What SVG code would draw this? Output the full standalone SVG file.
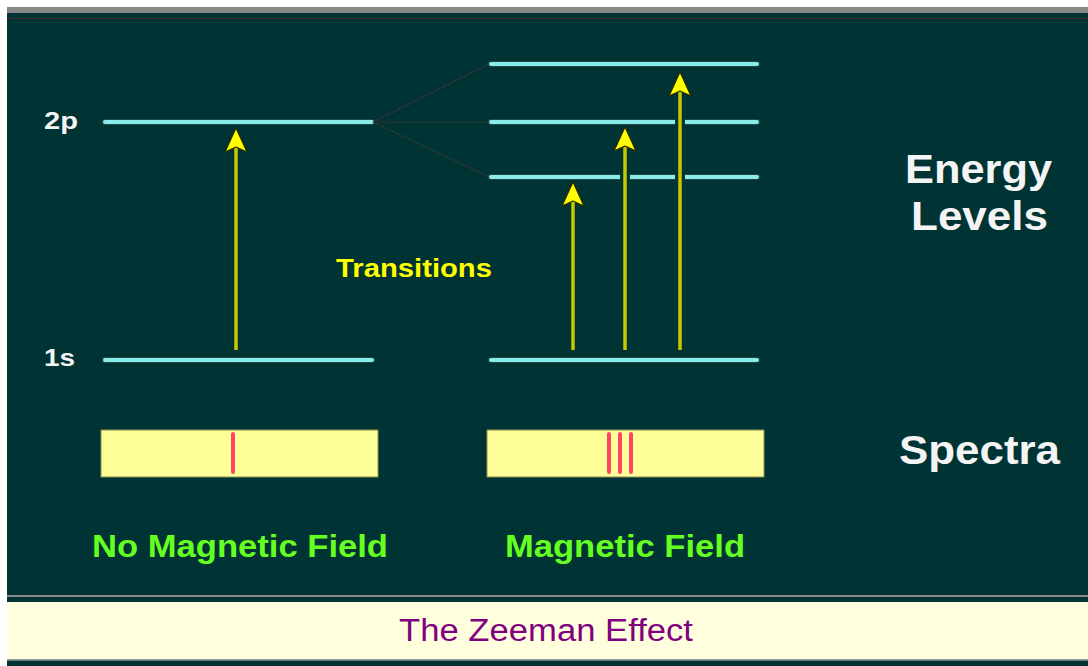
<svg xmlns="http://www.w3.org/2000/svg" width="1088" height="666" viewBox="0 0 1088 666">
<style>
.lvl{stroke:#8AEBEB;stroke-width:4;stroke-linecap:round}
.lvlo{stroke:#1f4a48;stroke-width:6;stroke-linecap:round}
.shaft{stroke:#C8C800;stroke-width:3.5}
.gap{stroke:#003333;stroke-width:10}
.head{fill:#FFFF00;stroke:#2a2a00;stroke-width:1.2;stroke-linejoin:round}
.dot{stroke:#3a3a3a;stroke-width:1.6;stroke-dasharray:2 1.5;fill:none}
.box{fill:#FFFF99;stroke:#8f8f55;stroke-width:1}
.sl{stroke:#FF4466;stroke-width:4;stroke-linecap:round}
.w{font-family:"Liberation Sans",Arial,sans-serif;font-weight:bold;fill:#F4F4F4}
.g{font-family:"Liberation Sans",Arial,sans-serif;font-weight:bold;fill:#66FF22;font-size:31px}
.y{font-family:"Liberation Sans",Arial,sans-serif;font-weight:bold;fill:#FFFF00;font-size:25px}
.t{font-family:"Liberation Sans",Arial,sans-serif;fill:#800080;font-size:31px}
</style>
<rect x="0" y="0" width="1088" height="666" fill="#FFFFFF"/>
<rect x="7" y="7" width="1081" height="6" fill="#888888"/>
<rect x="7" y="13" width="1081" height="582" fill="#003333"/>
<line x1="7" y1="18.5" x2="1088" y2="18.5" stroke="#4a2222" stroke-width="1"/>
<rect x="7" y="595" width="1081" height="2" fill="#8a8a8a"/>
<rect x="7" y="597" width="1081" height="5" fill="#003333"/>
<rect x="7" y="602" width="1081" height="57" fill="#FFFFDD"/>
<rect x="7" y="659" width="1081" height="1.5" fill="#9a9a9a"/>
<rect x="7" y="660.5" width="1081" height="5.5" fill="#003333"/>

<g id="level-2p">
<line class="lvlo" x1="105" y1="122" x2="372" y2="122"/>
<line class="lvl" x1="105" y1="122" x2="372" y2="122"/>
<text class="w" x="44" y="129" font-size="24" textLength="34" lengthAdjust="spacingAndGlyphs">2p</text>
</g>
<g id="level-1s">
<line class="lvlo" x1="105" y1="360" x2="372" y2="360"/>
<line class="lvl" x1="105" y1="360" x2="372" y2="360"/>
<text class="w" x="44" y="366" font-size="24" textLength="31" lengthAdjust="spacingAndGlyphs">1s</text>
</g>
<g id="level-split-top">
<line class="lvlo" x1="491" y1="64" x2="757" y2="64"/>
<line class="lvl" x1="491" y1="64" x2="757" y2="64"/>
</g>
<g id="level-split-mid">
<line class="lvlo" x1="491" y1="122" x2="757" y2="122"/>
<line class="lvl" x1="491" y1="122" x2="757" y2="122"/>
</g>
<g id="level-split-low">
<line class="lvlo" x1="491" y1="177" x2="757" y2="177"/>
<line class="lvl" x1="491" y1="177" x2="757" y2="177"/>
</g>
<g id="level-1s-field">
<line class="lvlo" x1="491" y1="360" x2="757" y2="360"/>
<line class="lvl" x1="491" y1="360" x2="757" y2="360"/>
</g>

<g id="connectors">
<line class="dot" x1="373" y1="122" x2="489" y2="64"/>
<line x1="373" y1="122" x2="489" y2="122" stroke="#2e2e2e" stroke-width="1"/>
<line class="dot" x1="373" y1="122" x2="489" y2="177"/>
<line class="gap" x1="625" y1="160" x2="625" y2="194"/>
<line class="gap" x1="680" y1="105" x2="680" y2="194"/>
<line class="shaft" x1="236" y1="350" x2="236" y2="142"/>
<path class="head" d="M236 128 L247 152 L236 147 L225 152 Z"/>
<line class="shaft" x1="573" y1="350" x2="573" y2="196"/>
<path class="head" d="M573 182 L584 206 L573 201 L562 206 Z"/>
<line class="shaft" x1="625" y1="350" x2="625" y2="141"/>
<path class="head" d="M625 127 L636 151 L625 146 L614 151 Z"/>
<line class="shaft" x1="680" y1="350" x2="680" y2="86"/>
<path class="head" d="M680 72 L691 96 L680 91 L669 96 Z"/>
</g>

<g id="label-transitions">
<text class="y" x="336" y="277" textLength="156" lengthAdjust="spacingAndGlyphs">Transitions</text>
</g>
<g id="label-energy-levels">
<text class="w" x="905" y="183" font-size="41" textLength="147" lengthAdjust="spacingAndGlyphs">Energy</text>
<text class="w" x="911" y="230" font-size="41" textLength="137" lengthAdjust="spacingAndGlyphs">Levels</text>
</g>
<g id="spectrum-no-field">
<rect class="box" x="101" y="430" width="277" height="47"/>
<line class="sl" x1="233" y1="434" x2="233" y2="472"/>
</g>
<g id="spectrum-field">
<rect class="box" x="487" y="430" width="277" height="47"/>
<line class="sl" x1="609" y1="434" x2="609" y2="472"/>
<line class="sl" x1="620" y1="434" x2="620" y2="472"/>
<line class="sl" x1="631" y1="434" x2="631" y2="472"/>
</g>
<g id="label-spectra">
<text class="w" x="899" y="464" font-size="41" textLength="161" lengthAdjust="spacingAndGlyphs">Spectra</text>
</g>
<g id="label-no-field">
<text class="g" x="92" y="557" textLength="296" lengthAdjust="spacingAndGlyphs">No Magnetic Field</text>
</g>
<g id="label-field">
<text class="g" x="505" y="557" textLength="240" lengthAdjust="spacingAndGlyphs">Magnetic Field</text>
</g>
<g id="title">
<text class="t" x="546" y="641" text-anchor="middle" textLength="294" lengthAdjust="spacingAndGlyphs">The Zeeman Effect</text>
</g>
</svg>
